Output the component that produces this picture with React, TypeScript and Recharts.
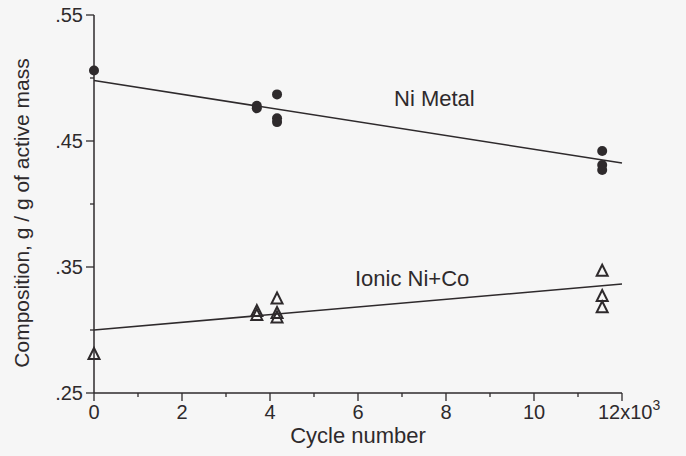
import React from 'react';
import { ScatterChart, Scatter, XAxis, YAxis, Label } from 'recharts';

const niMetalPoints = [
  { x: 0, y: 0.506 },
  { x: 3.7, y: 0.476 },
  { x: 3.7, y: 0.478 },
  { x: 4.16, y: 0.487 },
  { x: 4.16, y: 0.468 },
  { x: 4.16, y: 0.465 },
  { x: 11.55, y: 0.442 },
  { x: 11.55, y: 0.431 },
  { x: 11.55, y: 0.427 },
];
const ionicPoints = [
  { x: 0, y: 0.281 },
  { x: 3.7, y: 0.315 },
  { x: 3.7, y: 0.312 },
  { x: 4.16, y: 0.325 },
  { x: 4.16, y: 0.3135 },
  { x: 4.16, y: 0.310 },
  { x: 11.55, y: 0.347 },
  { x: 11.55, y: 0.327 },
  { x: 11.55, y: 0.318 },
];
const niMetalFit = [
  { x: 0, y: 0.498 },
  { x: 12, y: 0.4325 },
];
const ionicFit = [
  { x: 0, y: 0.3 },
  { x: 12, y: 0.3365 },
];
const xTicks = [0, 1, 2, 3, 4, 5, 6, 7, 8, 9, 10, 11, 12];
const xTickLabels: Record<number, string> = { 0: '0', 2: '2', 4: '4', 6: '6', 8: '8', 10: '10', 12: '12' };
const yTicks = [0.25, 0.3, 0.35, 0.4, 0.45, 0.5, 0.55];
const yTickLabels = ['.25', '', '.35', '', '.45', '', '.55'];

const INK = '#2e2a2c';
const BG = '#f6f6f6';
const FONT = 'Liberation Sans, Arial, sans-serif';

const XTick = (props: any) => {
  const { x, y, payload } = props;
  const v = payload.value;
  const label = xTickLabels[v];
  const major = label !== undefined;
  return (
    <g>
      <line x1={x} x2={x} y1={y} y2={y + (major ? 8 : 4)} stroke={INK} strokeWidth={1.3} />
      {major && v !== 12 && (
        <text x={x} y={y + 26} textAnchor="middle" fontSize={20} fill={INK} fontFamily={FONT}>
          {label}
        </text>
      )}
      {v === 12 && (
        <text x={x - 24} y={y + 26} textAnchor="start" fontSize={20} fill={INK} fontFamily={FONT}>
          12x10
          <tspan dy={-9} fontSize={14}>3</tspan>
        </text>
      )}
    </g>
  );
};

const YTick = (props: any) => {
  const { x, y, index } = props;
  const label = yTickLabels[index] ?? '';
  const major = label !== '';
  return (
    <g>
      <line x1={x} x2={x - (major ? 8 : 4)} y1={y} y2={y} stroke={INK} strokeWidth={1.3} />
      {major && (
        <text x={x - 11} y={y + 7} textAnchor="end" fontSize={20} fill={INK} fontFamily={FONT}>
          {label}
        </text>
      )}
    </g>
  );
};

const Dot = (props: any) => {
  const { cx, cy } = props;
  if (cx == null || cy == null) return null;
  return <circle cx={cx} cy={cy} r={5} fill={INK} />;
};

const Tri = (props: any) => {
  const { cx, cy } = props;
  if (cx == null || cy == null) return null;
  const h = 10;
  const w = 11;
  return (
    <polygon
      points={`${cx},${cy - h / 2 - 1} ${cx - w / 2},${cy + h / 2} ${cx + w / 2},${cy + h / 2}`}
      fill="none"
      stroke={INK}
      strokeWidth={2}
    />
  );
};

const NoShape = () => null;

export default function App() {
  return (
    <div style={{ position: 'fixed', left: 0, top: 0, width: 686, height: 456, background: BG }}>
      <div style={{ position: 'absolute', left: 8, top: 0 }}>
        <ScatterChart
          width={678}
          height={456}
          margin={{ top: 15, right: 64, bottom: 13, left: 46 }}
        >
          <XAxis
            type="number"
            dataKey="x"
            domain={[0, 12]}
            ticks={xTicks}
            interval={0}
            tick={<XTick />}
            tickLine={false}
            tickSize={0}
            tickMargin={0}
            axisLine={{ stroke: INK, strokeWidth: 1.5 }}
            height={50}
          >
            <Label
              value="Cycle number"
              position="insideBottom"
              offset={0}
              style={{ fontSize: 22, fill: INK, fontFamily: FONT }}
            />
          </XAxis>
          <YAxis
            type="number"
            dataKey="y"
            domain={[0.25, 0.55]}
            ticks={yTicks}
            interval={0}
            tick={<YTick />}
            tickLine={false}
            tickSize={0}
            tickMargin={0}
            axisLine={{ stroke: INK, strokeWidth: 1.5 }}
            width={40}
          >
            <Label
              value="Composition, g / g of active mass"
              angle={-90}
              position="center"
              dx={-52}
              dy={9}
              style={{ fontSize: 21, fill: INK, fontFamily: FONT, textAnchor: 'middle' }}
            />
          </YAxis>
          <Scatter data={niMetalFit} line={{ stroke: INK, strokeWidth: 1.6 }} shape={<NoShape />} isAnimationActive={false} />
          <Scatter data={ionicFit} line={{ stroke: INK, strokeWidth: 1.6 }} shape={<NoShape />} isAnimationActive={false} />
          <Scatter data={niMetalPoints} shape={<Dot />} isAnimationActive={false} />
          <Scatter data={ionicPoints} shape={<Tri />} isAnimationActive={false} />
        </ScatterChart>
      </div>
      <div
        style={{ position: 'absolute', left: 394, top: 88, fontSize: 22, color: INK, fontFamily: FONT, lineHeight: 1 }}
      >
        Ni Metal
      </div>
      <div
        style={{ position: 'absolute', left: 355, top: 268, fontSize: 22, color: INK, fontFamily: FONT, lineHeight: 1 }}
      >
        Ionic Ni+Co
      </div>
    </div>
  );
}
